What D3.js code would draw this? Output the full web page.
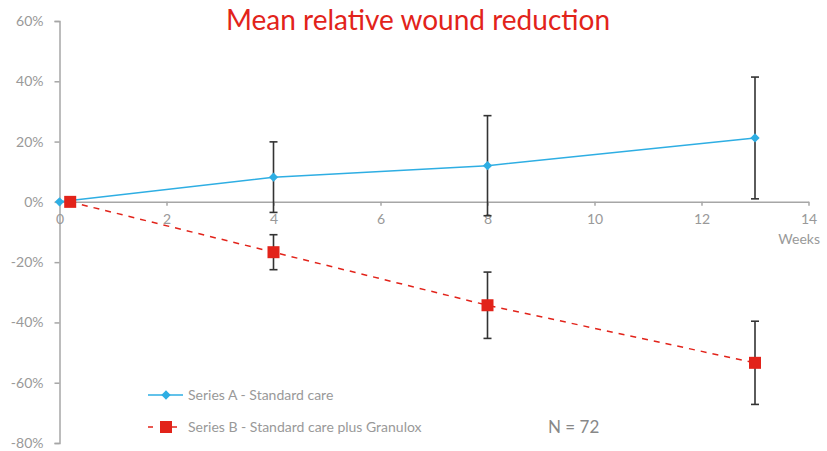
<!DOCTYPE html>
<html>
<head>
<meta charset="utf-8">
<script src="https://cdn.jsdelivr.net/npm/d3@7"></script>
<style>
  body { margin: 0; background: #fff; }
  text { font-family: Lato, "Open Sans", sans-serif; }
</style>
</head>
<body>
<div class="chart"></div>
<script>
var svgWidth = 827;
var svgHeight = 451;

// Data
var weeksA = [0, 4, 8, 13];
var valuesA = [0, 8.2, 12.0, 21.2];
var errorsA = [0, 11.7, 16.6, 20.2];

var weeksB = [0.2, 4, 8, 13];
var valuesB = [0, -16.7, -34.3, -53.4];
var errorsB = [0, 5.8, 11.0, 13.8];

var yTicks = [-80, -60, -40, -20, 0, 20, 40, 60];
var xTicks = [0, 2, 4, 6, 8, 10, 12, 14];
var seriesNames = ["Series A - Standard care", "Series B - Standard care plus Granulox"];

var blue = "#2eaee3";
var red = "#e2231a";

var svg = d3.select(".chart")
  .append("svg")
  .attr("width", svgWidth)
  .attr("height", svgHeight);

var xScale = d3.scaleLinear().domain([0, 14]).range([59.5, 808.5]);
var yScale = d3.scaleLinear().domain([-80, 60]).range([443, 21]);

// Title
svg.append("text")
  .attr("x", 418)
  .attr("y", 30)
  .attr("text-anchor", "middle")
  .attr("fill", red)
  .style("font-size", "28px")
  .text("Mean relative wound reduction");

// Y axis
var leftAxis = d3.axisLeft(yScale)
  .tickValues(yTicks)
  .tickSize(5)
  .tickFormat(d => d + "%");

var yAxisG = svg.append("g")
  .attr("transform", `translate(${xScale(0)}, 0)`)
  .call(leftAxis);

yAxisG.select(".domain").attr("stroke", "#a6a6a6").attr("stroke-width", 1.5);
yAxisG.selectAll(".tick line").attr("stroke", "#a6a6a6").attr("stroke-width", 1.5);
yAxisG.selectAll(".tick text")
  .attr("x", -16)
  .attr("fill", "#999")
  .style("font-size", "14px")
  .style("font-family", "Lato, 'Open Sans', sans-serif");

// X axis at 0%
var bottomAxis = d3.axisBottom(xScale)
  .tickValues(xTicks)
  .tickSize(4)
  .tickSizeOuter(0);

var xAxisG = svg.append("g")
  .attr("transform", `translate(0, ${yScale(0)})`)
  .call(bottomAxis);

xAxisG.select(".domain").attr("stroke", "#a6a6a6").attr("stroke-width", 1.5);
xAxisG.selectAll(".tick line").attr("stroke", "#a6a6a6").attr("stroke-width", 1.5);
xAxisG.selectAll(".tick text")
  .attr("y", 12)
  .attr("fill", "#999")
  .style("font-size", "14px")
  .style("font-family", "Lato, 'Open Sans', sans-serif");

svg.append("text")
  .attr("x", 820)
  .attr("y", 244)
  .attr("text-anchor", "end")
  .attr("fill", "#999")
  .style("font-size", "14px")
  .text("Weeks");

var dataA = weeksA.map((w, i) => ({ x: w, y: valuesA[i], e: errorsA[i] }));
var dataB = weeksB.map((w, i) => ({ x: w, y: valuesB[i], e: errorsB[i] }));

var line = d3.line().x(d => xScale(d.x)).y(d => yScale(d.y));

// Lines
svg.append("path")
  .datum(dataA)
  .attr("d", line)
  .attr("fill", "none")
  .attr("stroke", blue)
  .attr("stroke-width", 1.5);

svg.append("path")
  .datum(dataB)
  .attr("d", line)
  .attr("fill", "none")
  .attr("stroke", red)
  .attr("stroke-width", 1.5)
  .attr("stroke-dasharray", "6,6");

// Error bars
function drawErrors(data) {
  var g = svg.append("g");
  var eb = g.selectAll("g").data(data.filter(d => d.e > 0)).enter().append("g");
  eb.append("line")
    .attr("x1", d => xScale(d.x)).attr("x2", d => xScale(d.x))
    .attr("y1", d => yScale(d.y + d.e)).attr("y2", d => yScale(d.y - d.e));
  eb.append("line")
    .attr("x1", d => xScale(d.x) - 4).attr("x2", d => xScale(d.x) + 4)
    .attr("y1", d => yScale(d.y + d.e)).attr("y2", d => yScale(d.y + d.e));
  eb.append("line")
    .attr("x1", d => xScale(d.x) - 4).attr("x2", d => xScale(d.x) + 4)
    .attr("y1", d => yScale(d.y - d.e)).attr("y2", d => yScale(d.y - d.e));
  eb.selectAll("line").attr("stroke", "#333").attr("stroke-width", 1.6);
}
drawErrors(dataA);
drawErrors(dataB);

// Markers
var diamond = d3.symbol().type(d3.symbolDiamond2).size(55);

svg.append("g").selectAll("path")
  .data(dataA)
  .enter()
  .append("path")
  .attr("d", diamond)
  .attr("transform", d => `translate(${xScale(d.x)}, ${yScale(d.y)})`)
  .attr("fill", blue);

svg.append("g").selectAll("rect")
  .data(dataB)
  .enter()
  .append("rect")
  .attr("x", d => xScale(d.x) - 6)
  .attr("y", d => yScale(d.y) - 6)
  .attr("width", 12)
  .attr("height", 12)
  .attr("fill", red);

// Legend
var legend = svg.append("g");
legend.append("line")
  .attr("x1", 148).attr("x2", 183).attr("y1", 395).attr("y2", 395)
  .attr("stroke", blue).attr("stroke-width", 1.5);
legend.append("path")
  .attr("d", diamond)
  .attr("transform", "translate(166, 395)")
  .attr("fill", blue);
legend.append("line")
  .attr("x1", 148).attr("x2", 183).attr("y1", 427).attr("y2", 427)
  .attr("stroke", red).attr("stroke-width", 1.5)
  .attr("stroke-dasharray", "5,7");
legend.append("rect")
  .attr("x", 160).attr("y", 421).attr("width", 12).attr("height", 12)
  .attr("fill", red);

legend.selectAll("text")
  .data(seriesNames)
  .enter()
  .append("text")
  .attr("x", 188)
  .attr("y", (d, i) => 400 + i * 32)
  .attr("fill", "#999")
  .style("font-size", "14px")
  .text(d => d);

svg.append("text")
  .attr("x", 548)
  .attr("y", 433)
  .attr("fill", "#888")
  .style("font-size", "17px")
  .text("N = 72");
</script>
</body>
</html>
